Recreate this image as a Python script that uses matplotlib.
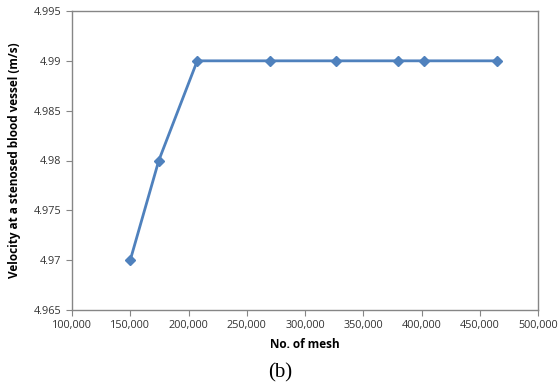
import matplotlib.pyplot as plt
from matplotlib.ticker import FuncFormatter

# Mesh independence data
mesh = [150000, 174500, 207500, 270000, 326500, 379500, 402500, 465000]
velocity = [4.97, 4.98, 4.99, 4.99, 4.99, 4.99, 4.99, 4.99]

x_ticks = [100000, 150000, 200000, 250000, 300000, 350000, 400000, 450000, 500000]
y_ticks = [4.965, 4.97, 4.975, 4.98, 4.985, 4.99, 4.995]


def main():
    fig = plt.figure(figsize=(5.58, 3.87), dpi=100)
    ax = fig.add_axes([72 / 558, 1 - 310 / 387, 466 / 558, 299 / 387])

    ax.plot(mesh, velocity, color="#4F81BD", linewidth=2.0,
            marker="D", markersize=5, markerfacecolor="#4F81BD", markeredgecolor="#4F81BD")

    ax.set_xlim(100000, 500000)
    ax.set_ylim(4.965, 4.995)
    ax.set_xticks(x_ticks)
    ax.set_yticks(y_ticks)
    ax.xaxis.set_major_formatter(FuncFormatter(lambda v, p: f"{int(v):,}"))
    ax.yaxis.set_major_formatter(FuncFormatter(lambda v, p: f"{v:g}"))

    for s in ax.spines.values():
        s.set_color("#868686")
        s.set_linewidth(1.0)
    ax.tick_params(direction="out", length=4, color="#868686", labelsize=7.8,
                   labelcolor="#333333")
    for lab in ax.get_xticklabels() + ax.get_yticklabels():
        lab.set_family("Open Sans")

    ax.set_xlabel("No. of mesh", fontsize=8.5, fontweight="bold", family="Open Sans", labelpad=5)
    ax.set_ylabel("Velocity at a stenosed blood vessel (m/s)", fontsize=8.5,
                  fontweight="bold", family="Open Sans", labelpad=9)

    fig.text(280 / 558, 1 - 373 / 387, "(b)", ha="center", va="center",
             fontsize=15, family="Liberation Serif")

    fig.savefig("out.png", dpi=100)


if __name__ == "__main__":
    main()
